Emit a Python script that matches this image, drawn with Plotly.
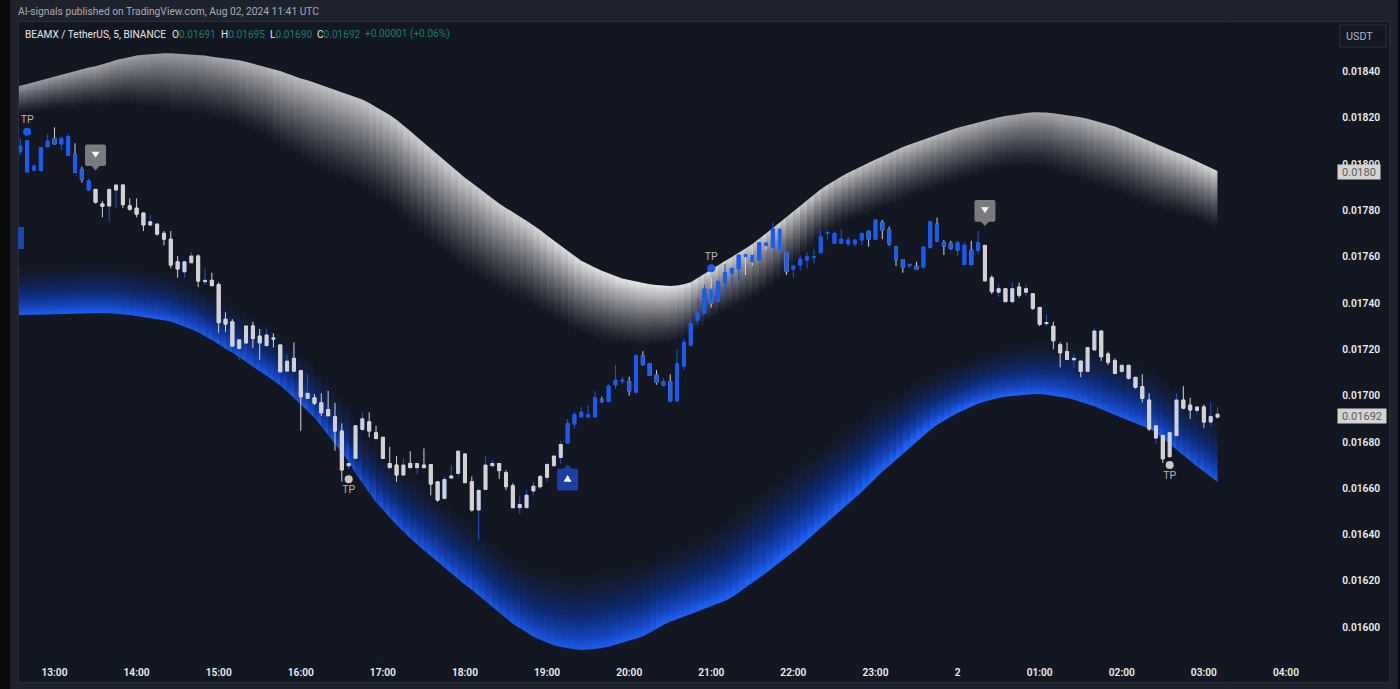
import numpy as np
import pandas as pd
import plotly.graph_objects as go

# all prices below are in units of 0.00001 USDT
opens = [1805.4,1796.6,1797.4,1797.2,1807.5,1811.1,1808.7,1803.8,1804.2,1797.7,
         1788.8,1789.1,1782.8,1781.9,1788.8,1791.0,1782.0,1781.0,1778.9,1773.7,
         1774.1,1770.1,1767.6,1757.8,1753.5,1757.4,1760.3,1749.2,1749.8,1748.0,
         1733.0,1731.9,1720.4,1722.7,1730.1,1725.7,1721.6,1724.9,1721.9,1710.6,
         1716.1,1710.8,1698.8,1699.1,1696.9,1694.0,1690.9,1684.7,1669.7,1672.9,
         1685.4,1688.7,1684.0,1682.0,1670.7,1670.0,1665.7,1670.7,1668.9,1670.0,
         1670.2,1662.8,1655.6,1664.4,1666.4,1674.8,1662.8,1650.6,1659.5,1669.7,
         1670.7,1666.7,1661.1,1651.6,1651.6,1658.8,1665.0,1664.7,1669.7,1673.3,
         1679.6,1687.7,1690.8,1690.8,1690.8,1698.2,1697.4,1704.6,1706.2,1706.1,
         1701.5,1717.2,1713.9,1708.9,1704.4,1706.0,1697.7,1712.8,1721.7,1732.6,
         1735.5,1746.0,1740.7,1748.8,1752.8,1754.7,1761.0,1760.7,1758.6,1766.0,
         1763.9,1772.0,1761.9,1754.7,1756.4,1758.6,1759.6,1761.7,1770.1,1765.8,
         1765.8,1765.5,1765.6,1767.2,1771.0,1767.5,1775.0,1771.8,1764.2,1758.8,
         1756.1,1756.0,1755.5,1763.9,1774.1,1766.1,1765.8,1762.7,1756.6,1762.9,
         1762.7,1764.9,1750.9,1744.7,1746.2,1740.6,1746.9,1744.7,1744.0,1738.1,
         1731.1,1730.0,1722.0,1719.0,1715.5,1714.9,1710.5,1719.7,1727.9,1718.0,
         1715.1,1710.5,1713.1,1707.9,1703.8,1698.1,1681.7,1682.8,1673.6,1682.7,
         1698.1,1695.9,1693.6,1695.1,1688.6,1690.7]
highs = [1811.1,1810.1,1800.0,1807.1,1813.0,1815.9,1811.9,1813.0,1809.0,1798.9,
         1793.8,1789.2,1784.0,1789.1,1791.0,1791.0,1785.2,1785.2,1778.9,1778.0,
         1774.1,1771.1,1771.1,1760.3,1757.8,1762.0,1761.0,1755.0,1753.1,1748.9,
         1736.0,1733.0,1724.1,1730.1,1731.9,1728.8,1728.8,1726.9,1721.9,1717.8,
         1723.0,1710.8,1709.2,1700.7,1701.0,1702.1,1696.9,1688.0,1678.9,1687.0,
         1692.8,1692.8,1687.0,1682.0,1677.9,1673.9,1672.9,1676.0,1670.7,1677.2,
         1670.2,1662.8,1665.0,1670.0,1676.0,1674.8,1665.0,1659.1,1673.9,1672.2,
         1670.7,1667.8,1662.1,1657.0,1659.2,1662.8,1665.7,1670.3,1673.9,1680.5,
         1689.9,1692.8,1695.2,1695.8,1702.0,1699.5,1705.0,1713.2,1708.2,1708.2,
         1718.0,1719.2,1713.9,1711.0,1707.7,1709.2,1720.0,1724.7,1733.0,1742.0,
         1747.8,1751.0,1750.2,1756.8,1755.0,1760.7,1761.0,1765.5,1766.0,1766.0,
         1775.1,1773.0,1761.9,1756.0,1760.7,1761.9,1763.3,1771.5,1771.1,1771.0,
         1771.8,1768.6,1767.6,1770.1,1771.0,1775.9,1775.9,1773.0,1764.2,1758.8,
         1756.7,1757.8,1764.2,1775.1,1776.9,1767.2,1766.9,1766.9,1766.1,1766.9,
         1771.1,1764.9,1751.9,1748.0,1746.2,1748.9,1748.9,1748.0,1744.0,1738.1,
         1735.1,1731.9,1723.0,1723.0,1718.0,1714.9,1720.8,1729.0,1727.9,1719.0,
         1716.1,1713.1,1713.1,1707.9,1709.2,1701.0,1688.7,1682.8,1684.0,1701.0,
         1704.1,1699.1,1695.1,1696.2,1697.0,1695.2]
lows = [1803.9,1796.6,1796.7,1796.7,1807.2,1808.7,1806.1,1803.8,1796.4,1792.0,
        1788.5,1783.0,1777.0,1775.1,1781.2,1781.0,1779.9,1777.0,1771.1,1773.7,
        1769.1,1764.9,1755.0,1750.9,1750.9,1757.4,1746.9,1747.8,1747.5,1727.2,
        1727.6,1721.4,1715.4,1716.8,1720.6,1715.4,1721.6,1720.8,1710.3,1710.6,
        1710.6,1684.8,1698.8,1695.9,1691.2,1691.2,1676.2,1662.8,1668.1,1672.9,
        1684.8,1682.0,1681.1,1672.9,1668.9,1662.8,1665.7,1668.9,1666.0,1668.9,
        1656.9,1654.2,1655.6,1664.4,1665.0,1662.4,1649.9,1637.9,1659.5,1669.7,
        1664.0,1659.2,1651.6,1648.8,1651.6,1657.0,1659.9,1662.8,1669.7,1670.7,
        1679.1,1685.8,1690.8,1690.8,1690.8,1696.9,1697.4,1702.8,1705.0,1700.0,
        1701.0,1713.0,1708.7,1704.7,1703.9,1697.7,1697.7,1711.0,1721.7,1731.0,
        1735.5,1738.1,1740.7,1743.9,1746.3,1749.9,1752.1,1756.1,1758.6,1762.9,
        1763.9,1762.6,1752.1,1750.9,1754.0,1755.0,1757.1,1761.7,1767.2,1765.8,
        1765.8,1764.6,1764.3,1765.0,1764.3,1767.5,1767.6,1764.8,1756.0,1753.1,
        1755.0,1754.5,1755.0,1763.9,1766.8,1760.7,1762.9,1760.3,1756.6,1756.6,
        1761.0,1749.6,1743.9,1742.7,1740.6,1739.8,1742.3,1743.0,1737.0,1730.0,
        1730.0,1720.1,1712.2,1715.7,1712.1,1708.0,1710.5,1719.7,1714.9,1713.2,
        1709.6,1709.6,1707.0,1703.0,1697.1,1684.8,1679.1,1671.0,1673.6,1682.7,
        1694.1,1689.9,1691.8,1686.1,1687.1,1689.9]
closes = [1807.8,1810.1,1799.2,1807.1,1810.0,1808.7,1811.1,1811.9,1796.4,1793.4,
          1792.8,1783.5,1781.8,1789.1,1791.0,1782.5,1780.5,1778.4,1773.7,1775.1,
          1769.8,1767.6,1756.4,1754.7,1757.8,1760.3,1749.5,1749.8,1747.5,1731.5,
          1730.9,1721.4,1724.1,1730.1,1724.7,1722.8,1726.2,1724.5,1710.3,1714.9,
          1710.6,1699.5,1701.0,1696.7,1692.6,1691.3,1684.7,1667.9,1670.7,1687.0,
          1690.0,1684.7,1681.5,1672.9,1668.9,1665.7,1670.0,1668.9,1670.7,1668.9,
          1661.8,1654.9,1663.8,1665.3,1676.0,1662.4,1650.6,1659.1,1670.0,1670.7,
          1667.6,1660.7,1651.6,1653.0,1657.0,1660.9,1660.7,1670.3,1673.9,1678.9,
          1688.0,1691.9,1692.9,1691.8,1699.1,1697.8,1704.1,1706.7,1706.7,1702.0,
          1717.2,1713.4,1708.7,1705.7,1706.1,1697.7,1713.8,1723.0,1731.1,1735.8,
          1746.0,1739.9,1749.2,1753.1,1755.0,1760.7,1760.0,1757.7,1766.0,1764.8,
          1772.0,1762.6,1753.5,1756.0,1758.9,1760.0,1760.0,1768.6,1770.5,1770.1,
          1767.6,1767.2,1767.2,1770.1,1767.6,1775.9,1771.5,1765.5,1758.7,1755.4,
          1756.7,1754.5,1764.2,1775.1,1766.8,1764.6,1763.6,1766.1,1765.0,1756.6,
          1766.1,1749.6,1744.9,1746.2,1740.6,1746.2,1743.4,1746.2,1737.7,1730.8,
          1731.6,1723.7,1718.5,1715.7,1716.1,1710.5,1720.8,1727.9,1716.8,1714.4,
          1709.6,1713.1,1707.5,1703.6,1698.8,1685.6,1687.0,1672.7,1684.0,1698.1,
          1694.6,1693.8,1695.1,1688.6,1691.0,1692.0]

# how many bars each trend leg lasted (bodies take the trend colour)
trend_legs = [("up", 11), ("down", 69), ("up", 61), ("down", 35)]

# top edge of the grey band, one value per bar
upper_edge = [1833.9,1834.6,1835.4,1836.1,1837.0,1837.9,1838.6,1839.5,1840.3,1841.0,
              1841.7,1842.3,1843.0,1844.0,1845.0,1845.7,1846.4,1846.9,1847.3,1847.6,
              1847.8,1847.9,1847.9,1847.7,1847.5,1847.3,1847.2,1846.9,1846.4,1846.0,
              1845.7,1845.4,1844.9,1844.2,1843.4,1842.7,1842.1,1841.3,1840.2,1839.1,
              1838.0,1837.0,1836.2,1835.2,1834.2,1833.2,1832.1,1831.0,1830.1,1829.0,
              1827.9,1826.4,1824.7,1823.0,1821.2,1819.2,1816.9,1814.3,1811.7,1809.2,
              1806.5,1804.0,1801.4,1799.0,1796.5,1794.1,1792.0,1789.7,1787.4,1785.2,
              1783.0,1781.1,1779.1,1777.4,1775.6,1773.7,1771.5,1769.2,1766.9,1764.8,
              1762.6,1760.4,1758.3,1756.7,1755.4,1754.0,1752.8,1751.6,1750.6,1749.9,
              1749.2,1748.5,1748.1,1747.8,1747.5,1747.4,1747.6,1748.1,1749.0,1750.9,
              1752.6,1754.5,1756.3,1758.2,1759.9,1761.6,1763.6,1765.5,1767.7,1770.0,
              1772.4,1774.8,1777.2,1779.7,1781.8,1784.3,1786.7,1789.1,1791.1,1793.0,
              1794.7,1796.3,1797.8,1799.2,1800.6,1802.0,1803.3,1804.7,1806.1,1807.4,
              1808.5,1809.6,1810.6,1811.6,1812.7,1813.8,1814.8,1815.7,1816.5,1817.2,
              1818.0,1818.8,1819.6,1820.3,1820.8,1821.3,1821.7,1822.1,1822.4,1822.5,
              1822.3,1822.0,1821.6,1821.1,1820.7,1820.3,1819.6,1818.8,1818.1,1817.2,
              1816.3,1815.0,1813.9,1812.6,1811.3,1810.0,1808.6,1807.3,1806.0,1805.0,
              1803.9,1802.6,1801.2,1799.8,1798.4,1797.0]
# bottom edge of the blue band, one value per bar
lower_edge = [1734.8,1734.8,1734.9,1735.0,1735.1,1735.2,1735.3,1735.4,1735.5,1735.6,
              1735.7,1735.7,1735.7,1735.6,1735.4,1735.1,1734.8,1734.4,1734.0,1733.5,
              1733.0,1732.6,1732.0,1731.0,1730.0,1728.7,1727.4,1725.8,1724.0,1722.2,
              1720.2,1718.6,1716.5,1714.5,1712.5,1710.5,1708.6,1706.6,1704.4,1701.8,
              1698.9,1696.0,1693.4,1690.4,1686.8,1683.0,1679.2,1675.4,1671.5,1666.5,
              1662.0,1658.0,1654.0,1650.5,1647.4,1644.2,1641.2,1638.4,1635.7,1633.2,
              1630.6,1628.3,1625.9,1623.4,1620.8,1618.3,1616.2,1613.7,1611.2,1608.6,
              1606.0,1603.5,1601.4,1599.6,1597.6,1595.8,1594.5,1593.2,1592.2,1591.4,
              1590.8,1590.4,1590.1,1590.2,1590.6,1591.0,1591.5,1592.4,1593.4,1594.2,
              1595.0,1596.0,1597.6,1599.3,1600.9,1602.3,1603.5,1604.6,1605.7,1606.8,
              1607.9,1608.9,1610.2,1611.3,1612.9,1615.0,1617.0,1618.9,1621.2,1623.4,
              1625.6,1627.9,1630.2,1632.6,1634.9,1637.4,1640.0,1642.8,1645.4,1648.0,
              1650.3,1652.9,1655.5,1658.4,1661.3,1664.4,1667.1,1669.6,1672.2,1675.0,
              1677.8,1680.4,1683.0,1685.2,1687.3,1689.2,1690.9,1692.5,1693.9,1695.3,
              1696.5,1697.5,1698.3,1699.0,1699.5,1699.9,1700.2,1700.4,1700.6,1700.7,
              1700.4,1700.0,1699.5,1699.0,1698.2,1697.3,1696.5,1695.4,1694.1,1692.8,
              1691.5,1690.4,1689.3,1688.1,1686.9,1685.7,1684.0,1681.5,1679.2,1676.7,
              1674.2,1671.8,1669.4,1667.2,1664.9,1662.7]

# fade depth and edge brightness, one value per 5 bars
upper_depth = [13,16,18,22,25,26,27,31,35,37,38,39,39,38,36,34,31,29,27,24,22,25,26,22,22,24,24,24,23,23,25,28,28,27,25,24]
upper_glow = [.62,.64,.65,.63,.60,.60,.68,.72,.74,.76,.78,.80,.80,.80,.82,.85,.88,.90,.93,.93,.90,.88,.86,.83,.80,.78,.76,.72,.68,.64,.65,.70,.74,.78,.82,.84]
lower_depth = [22,22,23,23,22,23,24,25,26,27,28,30,32,32,32,34,35,35,34,33,35,39,39,37,35,31,26,22,22,24,26,28,29,29,30,31]
lower_glow = [.95,.95,.95,.95,.95,.95,.95,.95,.95,.95,.95,.95,.95,.95,.94,.92,.92,.92,.93,.94,.95,.95,.95,.95,.95,.95,.95,.95,.95,.95,.95,.95,.95,.95,.95,.95]

# signals: bar index, price at the pointer tip
sell_bars = [11, 141]
sell_prices = [1797.3, 1773.3]
buy_bars = [80]
buy_prices = [1670.3]
tp_up_bars = [1, 101]
tp_up_prices = [1814.0, 1755.0]
tp_down_bars = [48, 168]
tp_down_prices = [1663.9, 1670.0]

legend_values = [("O", "0.01691", 172), ("H", "0.01695", 221), ("L", "0.01690", 270), ("C", "0.01692", 317)]
y_ticks = [1600, 1620, 1640, 1660, 1680, 1700, 1720, 1740, 1760, 1780, 1800, 1820, 1840]
x_tick_times = pd.date_range("2024-08-01 13:00", "2024-08-02 04:00", freq="1h")
x_tick_labels = ["13:00", "14:00", "15:00", "16:00", "17:00", "18:00", "19:00", "20:00", "21:00",
                 "22:00", "23:00", "2", "01:00", "02:00", "03:00", "04:00"]

BG = "#131722"
FRAME = "#1e222d"
BLUE = "#1a5cf2"
WHITE = "#d2d2d2"
FONT = "Roboto"

UNIT = 1e-5
times = pd.date_range("2024-08-01 12:35", periods=len(opens), freq="5min")
pad = pd.Timedelta(minutes=5)
o = np.array(opens) * UNIT
h = np.array(highs) * UNIT
l = np.array(lows) * UNIT
c = np.array(closes) * UNIT
trend = np.concatenate([np.full(n, name == "up") for name, n in trend_legs])
rising = c >= o


def paper_x(px):
    return (px - 19) / 1370


def paper_y(py):
    return (682 - py) / 660


def soften(values):
    # the 5 bar steps of depth/brightness would show as bands otherwise
    stepped = np.repeat(values, 5)[:len(opens)]
    return np.convolve(np.pad(stepped, 3, mode="edge"), np.ones(7) / 7, mode="valid")


def band_z(edge, depth, glow, levels, sign, gamma):
    # one column per bar, each ending at its bar; values come from the lists above
    depth = soften(depth)
    t = sign * (np.array(edge) - levels[:, None]) / depth
    z = soften(glow) * (1 - np.clip(t, 0, 1)) ** gamma
    z[(t > 1) | (t < -8 / depth)] = np.nan
    return z


def candles(mask, high, low, color, xaxis="x2", yaxis="y2"):
    style = dict(line=dict(color=color, width=1), fillcolor=color)
    return go.Candlestick(x=times[mask], open=o[mask], high=high[mask], low=low[mask], close=c[mask],
                          increasing=style, decreasing=style, whiskerwidth=0, hoverinfo="skip",
                          showlegend=False, xaxis=xaxis, yaxis=yaxis)


fig = go.Figure()

# gradient bands
band_x = [times[0] - pad] + list(times)
upper_levels = np.arange(1690, 1856, 0.4)
lower_levels = np.arange(1582, 1765, 0.4)
fig.add_trace(go.Heatmap(x=band_x, y=upper_levels * UNIT,
                         z=band_z(upper_edge, upper_depth, upper_glow, upper_levels, 1, 1.25),
                         colorscale=[[0, BG], [1, "#f4f4f4"]], zmin=0, zmax=1, showscale=False, hoverinfo="skip"))
fig.add_trace(go.Heatmap(x=band_x, y=lower_levels * UNIT,
                         z=band_z(lower_edge, lower_depth, lower_glow, lower_levels, -1, 1.75),
                         colorscale=[[0, BG], [0.35, "#0d2a70"], [0.7, "#1544bb"], [1, "#1f66ff"]],
                         zmin=0, zmax=1, showscale=False, hoverinfo="skip"))

# background colour trimmed along the band edges, so they stay smooth
mask_x = [times[0] - pad] + list(times) + [times[-1] + pad]
for edge, limit in [(upper_edge, 1862), (lower_edge, 1575)]:
    fig.add_trace(go.Scatter(x=mask_x, y=np.array([edge[0]] + edge + [edge[-1]]) * UNIT, mode="lines",
                             line=dict(width=0), hoverinfo="skip", showlegend=False))
    fig.add_trace(go.Scatter(x=mask_x, y=np.full(len(mask_x), limit) * UNIT, mode="lines", line=dict(width=0),
                             fill="tonexty", fillcolor=BG, hoverinfo="skip", showlegend=False))

# wicks first, bodies on top of them
body_hi = np.maximum(o, c)
body_lo = np.minimum(o, c)
fig.add_trace(candles(rising, h, l, "#2152d0"))
fig.add_trace(candles(~rising, h, l, WHITE))
fig.add_trace(candles(trend, body_hi, body_lo, BLUE))
fig.add_trace(candles(~trend, body_hi, body_lo, WHITE))

# take profit dots
for bars, prices, color, pos in [(tp_up_bars, tp_up_prices, BLUE, "top center"),
                                 (tp_down_bars, tp_down_prices, "#c8c8c8", "bottom center")]:
    fig.add_trace(go.Scatter(x=times[bars], y=np.array(prices) * UNIT, mode="markers+text", text=["TP"] * len(bars),
                             textposition=pos, textfont=dict(family=FONT, size=10.5, color="#b2b5be"),
                             marker=dict(size=8, color=color), hoverinfo="skip", showlegend=False,
                             xaxis="x2", yaxis="y2"))

shapes = [
    dict(type="rect", xref="paper", yref="paper", x0=paper_x(0), x1=paper_x(10), y0=paper_y(689), y1=paper_y(0),
         fillcolor="#0a0a0a", line_width=0, layer="below"),
    dict(type="rect", xref="paper", yref="paper", x0=paper_x(1398), x1=paper_x(1400), y0=paper_y(689), y1=paper_y(0),
         fillcolor="#0a0a0a", line_width=0, layer="below"),
    dict(type="rect", xref="paper", yref="paper", x0=paper_x(18), x1=paper_x(24), y0=paper_y(249), y1=paper_y(227),
         fillcolor="#1d46a8", line_width=0),
    dict(type="rect", xref="paper", yref="paper", x0=paper_x(1340), x1=paper_x(1386), y0=paper_y(47), y1=paper_y(25),
         fillcolor="rgba(0,0,0,0)", line=dict(color="#2a2e39", width=1)),
]

SELL_PATH = "M-8.5,26 Q-10.5,26 -10.5,24 L-10.5,6.3 Q-10.5,4.3 -8.5,4.3 L-4,4.3 L0,0 L4,4.3 L8.5,4.3 Q10.5,4.3 10.5,6.3 L10.5,24 Q10.5,26 8.5,26 Z"
SELL_ARROW = "M-4,18.6 L4,18.6 L0,13 Z"
BUY_PATH = "M-8.5,-26 Q-10.5,-26 -10.5,-24 L-10.5,-6.3 Q-10.5,-4.3 -8.5,-4.3 L-4,-4.3 L0,0 L4,-4.3 L8.5,-4.3 Q10.5,-4.3 10.5,-6.3 L10.5,-24 Q10.5,-26 8.5,-26 Z"
BUY_ARROW = "M-4,-17.4 L4,-17.4 L0,-10.7 Z"
for bars, prices, body, arrow, color in [(sell_bars, sell_prices, SELL_PATH, SELL_ARROW, "#7a7b7f"),
                                         (buy_bars, buy_prices, BUY_PATH, BUY_ARROW, "#1b3fa3")]:
    for bar, price in zip(bars, prices):
        for path, fill in [(body, color), (arrow, "#ffffff")]:
            shapes.append(dict(type="path", path=path, xref="x", yref="y", xsizemode="pixel", ysizemode="pixel",
                               xanchor=times[bar], yanchor=price * UNIT, fillcolor=fill, line_width=0))

annotations = []


def label(px, py, text, color, size=10.1, anchor="left"):
    annotations.append(dict(xref="paper", yref="paper", x=paper_x(px), y=paper_y(py), text=text, showarrow=False,
                            xanchor=anchor, yanchor="middle", borderpad=0, borderwidth=0,
                            font=dict(family=FONT, size=size, color=color)))


GREEN = "#12806a"
label(18, 11, "AI-signals published on TradingView.com, Aug 02, 2024 11:41 UTC", "#a9acb5", size=10.25)
label(25, 34, "BEAMX / TetherUS, 5, BINANCE", "#e6e6e6")
for name, value, px in legend_values:
    label(px, 34, f"{name}<span style='color:{GREEN}'>{value}</span>", "#e6e6e6")
label(365, 34, "+0.00001 (+0.06%)", GREEN)
label(1359, 36, "USDT", "#b2b5be", size=10.8, anchor="center")

# price tags on the right, the upper band's last value and the last close
for py, text, width in [(172, "0.0180", 42), (415.5, "0.01692", 48)]:
    annotations.append(dict(xref="paper", yref="paper", x=paper_x(1337), y=paper_y(py), text=text, showarrow=False,
                            xanchor="left", yanchor="middle", width=width, height=14, borderpad=0, bgcolor="#d4d4d4",
                            font=dict(family=FONT, size=11, color="#5c5c5c")))

x_range = ["2024-08-01 12:34:04", "2024-08-02 05:15:18"]
y_range = [0.015763, 0.018614]
tick_font = dict(family=FONT, size=10.2, color="#f0f0f0", weight=600)
fig.update_layout(
    width=1400, height=689,
    margin=dict(l=19, r=11, t=22, b=7),
    paper_bgcolor=FRAME, plot_bgcolor=BG,
    hovermode=False, showlegend=False, boxgap=0.38,
    shapes=shapes, annotations=annotations,
    xaxis=dict(range=x_range, tickmode="array", tickvals=x_tick_times, ticktext=x_tick_labels, showgrid=False,
               zeroline=False, ticklabelposition="inside", ticks="", tickfont=tick_font, ticklabelstandoff=3,
               showline=True, mirror=True, linecolor="#2a2e39", rangeslider=dict(visible=False)),
    yaxis=dict(range=y_range, side="right", tickmode="array", tickvals=np.array(y_ticks) * UNIT,
               ticktext=[f"{v * UNIT:.5f}" for v in y_ticks], showgrid=False, zeroline=False,
               ticklabelposition="inside", ticks="", tickfont=tick_font, ticklabelstandoff=8,
               showline=True, mirror=True, linecolor="#2a2e39"),
    xaxis2=dict(range=x_range, overlaying="x", visible=False, rangeslider=dict(visible=False)),
    yaxis2=dict(range=y_range, overlaying="y", visible=False),
)

fig.write_html("out.html", config=dict(displayModeBar=False),
               post_script="document.body.style.margin='0';document.body.style.overflow='hidden';")
